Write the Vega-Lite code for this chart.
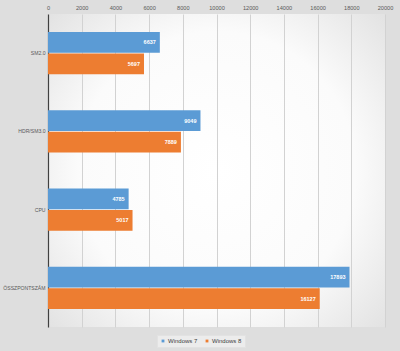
{
  "$schema": "https://vega.github.io/schema/vega-lite/v6.json",
  "width": 337,
  "height": 313,
  "autosize": "none",
  "padding": {"left": 48, "top": 14, "right": 15, "bottom": 24},
  "background": "#dedede",
  "config": {
    "view": {"stroke": null, "fill": {"gradient": "radial", "x1": 0.5, "y1": 0.5, "r1": 0, "x2": 0.5, "y2": 0.5, "r2": 0.75, "stops": [{"offset": 0, "color": "#ffffff"}, {"offset": 0.55, "color": "#fbfbfb"}, {"offset": 1, "color": "#dcdcdc"}]}},
    "font": "Liberation Sans"
  },
  "data": {"values": [
    {"cat": "SM2.0", "os": "Windows 7", "v": 6637},
    {"cat": "SM2.0", "os": "Windows 8", "v": 5697},
    {"cat": "HDR/SM3.0", "os": "Windows 7", "v": 9049},
    {"cat": "HDR/SM3.0", "os": "Windows 8", "v": 7889},
    {"cat": "CPU", "os": "Windows 7", "v": 4785},
    {"cat": "CPU", "os": "Windows 8", "v": 5017},
    {"cat": "ÖSSZPONTSZÁM", "os": "Windows 7", "v": 17893},
    {"cat": "ÖSSZPONTSZÁM", "os": "Windows 8", "v": 16127}
  ]},
  "encoding": {
    "y": {"field": "cat", "type": "nominal", "sort": ["SM2.0", "HDR/SM3.0", "CPU", "ÖSSZPONTSZÁM"],
      "scale": {"paddingInner": 0.46, "paddingOuter": 0.23},
      "axis": {"title": null, "ticks": false, "domainColor": "#404040", "domainWidth": 1.2, "labelColor": "#595959", "labelFontSize": 5.1, "labelPadding": 3}},
    "yOffset": {"field": "os", "type": "nominal", "sort": ["Windows 7", "Windows 8"], "scale": {"paddingInner": 0.04}},
    "x": {"field": "v", "type": "quantitative", "scale": {"domain": [0, 20000]},
      "axis": {"orient": "top", "title": null, "format": "d", "values": [0, 2000, 4000, 6000, 8000, 10000, 12000, 14000, 16000, 18000, 20000], "ticks": false, "domain": false, "gridColor": "#d2d2d2", "labelColor": "#595959", "labelFontSize": 5.6, "labelPadding": 4, "labelFlush": false}}
  },
  "layer": [
    {"mark": {"type": "bar"},
     "encoding": {"color": {"field": "os", "type": "nominal",
       "scale": {"domain": ["Windows 7", "Windows 8"], "range": ["#5b9bd5", "#ed7d31"]},
       "legend": {"title": null, "orient": "none", "direction": "horizontal", "legendX": 109, "legendY": 321, "symbolType": "square", "symbolSize": 8, "symbolOffset": 0, "labelOffset": 2, "labelFontSize": 6, "labelColor": "#404040", "fillColor": "#ececec", "padding": 3, "strokeColor": "#e2e2e2", "columnPadding": 6}}}},
    {"mark": {"type": "text", "align": "right", "dx": -4, "color": "white", "fontSize": 5.5, "fontWeight": "bold"},
     "encoding": {"text": {"field": "v", "type": "quantitative", "format": "d"}}}
  ]
}
